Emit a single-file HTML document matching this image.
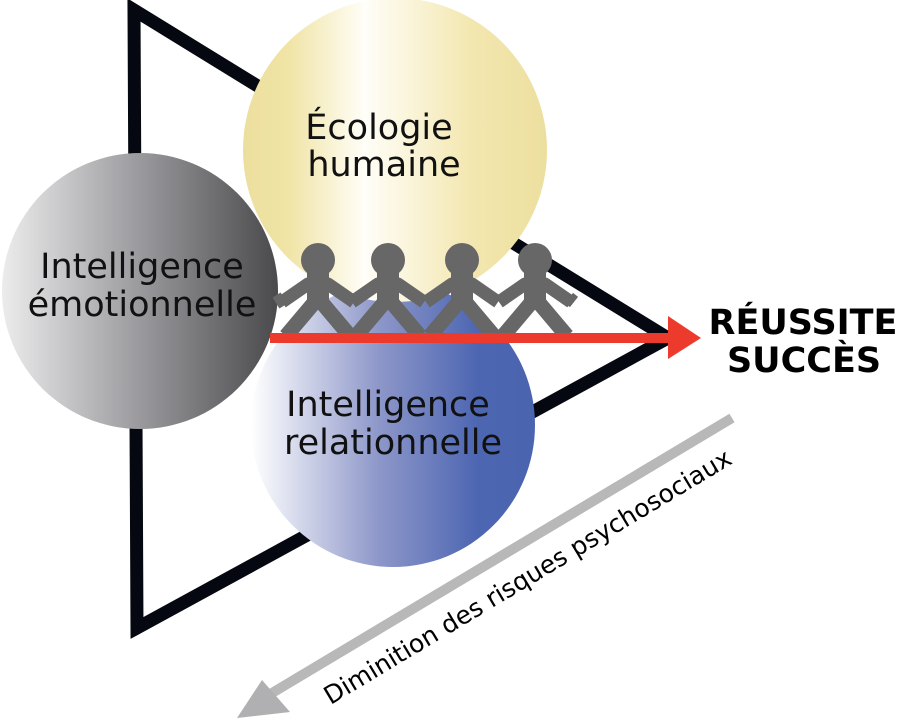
<!DOCTYPE html>
<html><head><meta charset="utf-8"><style>
html,body{margin:0;padding:0;background:#fff;width:900px;height:720px;overflow:hidden}
svg{display:block}
text{font-family:"DejaVu Sans","Liberation Sans",sans-serif}
</style></head><body>
<svg width="900" height="720" viewBox="0 0 900 720" xmlns="http://www.w3.org/2000/svg">
<defs>
<linearGradient id="gy" x1="0" x2="1" y1="0" y2="0">
<stop offset="0" stop-color="#ecdf9e"/><stop offset="0.15" stop-color="#f0e4a6"/><stop offset="0.4" stop-color="#fffef8"/><stop offset="0.75" stop-color="#f3e7b0"/><stop offset="1" stop-color="#ecdf9e"/></linearGradient>
<linearGradient id="gg" x1="0" x2="1" y1="0" y2="0">
<stop offset="0" stop-color="#ececec"/><stop offset="0.5" stop-color="#9a9a9e"/><stop offset="1" stop-color="#4a4a4c"/></linearGradient>
<linearGradient id="gb" x1="0" x2="1" y1="0" y2="0">
<stop offset="0" stop-color="#ffffff"/><stop offset="0.45" stop-color="#8d97c9"/><stop offset="0.8" stop-color="#4d66b2"/><stop offset="1" stop-color="#4a64b0"/></linearGradient>
<g id="p">
<circle cx="0" cy="0" r="17" stroke="none"/>
<rect x="-11" y="12" width="22" height="38" stroke="none"/>
<polyline points="-36,42 -10,24 10,24 36,42" fill="none" stroke-width="13"/>
<polyline points="-32,76 -5,44" fill="none" stroke-width="15"/>
<polyline points="32,76 5,44" fill="none" stroke-width="15"/>
</g>
</defs>
<polygon points="134,10 137,628 668,338" fill="none" stroke="#050810" stroke-width="13" stroke-linejoin="miter"/>
<circle cx="140" cy="291" r="138" fill="url(#gg)"/>
<circle cx="393" cy="425" r="142" fill="url(#gb)"/>
<circle cx="395" cy="150" r="152" fill="url(#gy)"/>
<text x="379" y="139" font-size="35" text-anchor="middle" fill="#111">Écologie</text>
<text x="384" y="176" font-size="35" text-anchor="middle" fill="#111">humaine</text>
<text x="142" y="278" font-size="35" text-anchor="middle" fill="#111">Intelligence</text>
<text x="142" y="316" font-size="35" text-anchor="middle" fill="#111">émotionnelle</text>
<text x="388" y="416" font-size="35" text-anchor="middle" fill="#111">Intelligence</text>
<text x="393" y="454" font-size="35" text-anchor="middle" fill="#111">relationnelle</text>
<g fill="#676767" stroke="#676767" stroke-linecap="butt" stroke-linejoin="round">
<use href="#p" x="318" y="260"/>
<use href="#p" x="388" y="260"/>
<use href="#p" x="462" y="260"/>
<use href="#p" x="535" y="260"/>
<line x1="276" y1="303" x2="284" y2="298" stroke-width="13"/>
<line x1="569" y1="298" x2="574" y2="302" stroke-width="13"/>
</g>
<rect x="270" y="333" width="400" height="10" fill="#ec3a2c"/>
<polygon points="668,316 701,338 668,359" fill="#ec3a2c"/>
<text x="803" y="334" font-size="35" font-weight="bold" text-anchor="middle" fill="#000">RÉUSSITE</text>
<text x="804" y="372" font-size="35" font-weight="bold" text-anchor="middle" fill="#000">SUCCÈS</text>
<line x1="732" y1="418" x2="262" y2="699" stroke="#b8b8b8" stroke-width="10"/>
<polygon points="237,718 262,680 290,712" fill="#b0b0b2"/>
<text transform="translate(532,584) rotate(-31)" font-size="25" text-anchor="middle" fill="#000">Diminition des risques psychosociaux</text>
</svg>
</body></html>
